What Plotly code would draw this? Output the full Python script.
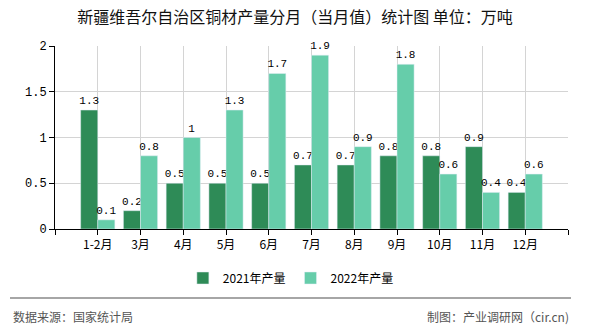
import plotly.graph_objects as go

categories = ["1-2月", "3月", "4月", "5月", "6月", "7月", "8月", "9月", "10月", "11月", "12月"]
values_2021 = [1.3, 0.2, 0.5, 0.5, 0.5, 0.7, 0.7, 0.8, 0.8, 0.9, 0.4]
values_2022 = [0.1, 0.8, 1.0, 1.3, 1.7, 1.9, 0.9, 1.8, 0.6, 0.4, 0.6]
series_names = ["2021年产量", "2022年产量"]
y_ticks = [0, 0.5, 1, 1.5, 2]
y_tick_text = ["0", "0.5", "1", "1.5", "2"]

title_text = "新疆维吾尔自治区铜材产量分月（当月值）统计图 单位：万吨"
source_text = "数据来源：国家统计局"
credit_text = "制图：产业调研网（cir.cn)"

W, H = 590, 330
ML, MR, MT, MB = 55, 22, 46, 101
PW = W - ML - MR
PH = H - MT - MB


def px_x(px):
    return (px - ML) / PW


def px_y(py):
    return (H - MB - py) / PH


idx = list(range(len(categories)))
label_font = dict(family="Liberation Mono, monospace", size=11, color="#000")

fig = go.Figure()
fig.add_trace(go.Bar(
    x=idx, y=values_2021, name=series_names[0], marker_color="#2e8b57",
    text=[f"{v:g}" for v in values_2021], textposition="outside",
    textfont=label_font, cliponaxis=False, constraintext="none",
))
fig.add_trace(go.Bar(
    x=idx, y=values_2022, name=series_names[1], marker_color="#66cdaa",
    text=[f"{v:g}" for v in values_2022], textposition="outside",
    textfont=label_font, cliponaxis=False, constraintext="none",
))

fig.update_layout(
    width=W, height=H,
    margin=dict(l=ML, r=MR, t=MT, b=MB),
    paper_bgcolor="white", plot_bgcolor="white",
    barmode="group", bargap=0.2, bargroupgap=0,
    font=dict(family="Noto Sans CJK SC, sans-serif", color="#000"),
    title=dict(text=title_text, x=0.5, xref="container", xanchor="center",
               y=1 - 17 / H, yref="container", yanchor="middle",
               font=dict(size=16, color="#111", family="Noto Sans CJK SC, sans-serif")),
    legend=dict(orientation="h", x=0.493, xref="container", xanchor="center",
                y=1 - 278 / H, yref="container", yanchor="middle",
                font=dict(size=12, family="Noto Sans CJK SC, sans-serif", color="#000"),
                itemwidth=30, traceorder="normal"),
)

fig.update_xaxes(
    type="linear", range=[-1, 11],
    tickvals=list(range(-1, len(categories) + 1)),
    ticktext=[""] + categories + [""],
    showline=True, linecolor="#000", linewidth=1,
    ticks="outside", ticklen=5, tickcolor="#000",
    showgrid=True, gridcolor="#d4d4d4", gridwidth=1,
    zeroline=False,
    tickfont=dict(size=12, family="Noto Sans CJK SC, sans-serif", color="#000"),
)
fig.update_yaxes(
    range=[0, 2], tickvals=y_ticks, ticktext=y_tick_text,
    showline=True, linecolor="#000", linewidth=1,
    ticks="outside", ticklen=5, tickcolor="#000",
    showgrid=True, gridcolor="#d4d4d4", gridwidth=1,
    zeroline=False,
    tickfont=dict(size=12, family="Liberation Mono, monospace", color="#000"),
)

fig.add_shape(type="line", xref="paper", yref="paper",
              x0=px_x(10), x1=px_x(571), y0=px_y(298), y1=px_y(298),
              line=dict(color="#888", width=1.5))
fig.add_annotation(text=source_text, xref="paper", yref="paper",
                   x=px_x(11), y=px_y(316), xanchor="left", yanchor="middle",
                   showarrow=False,
                   font=dict(size=12, color="#555", family="Noto Sans CJK SC, sans-serif"))
fig.add_annotation(text=credit_text, xref="paper", yref="paper",
                   x=px_x(571), y=px_y(316), xanchor="right", yanchor="middle",
                   showarrow=False,
                   font=dict(size=12, color="#555", family="Noto Sans CJK SC, sans-serif"))

fig.write_html("out.html")
